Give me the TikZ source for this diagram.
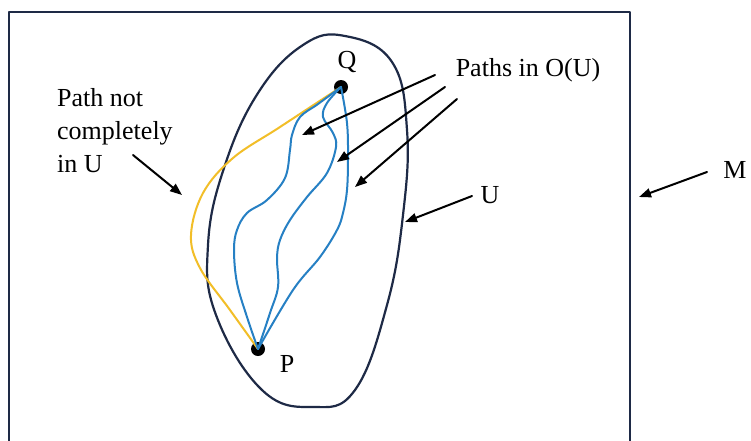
\documentclass[tikz,border=0pt]{standalone}
\usepackage{fontspec}
\setmainfont{Liberation Serif}
\usetikzlibrary{arrows.meta}
\definecolor{navy}{RGB}{30,42,70}
\definecolor{pathblue}{RGB}{38,128,196}
\definecolor{pathgold}{RGB}{242,190,40}
\tikzset{
  dot/.style={circle,fill=black,inner sep=0pt,minimum size=14pt},
  lbl/.style={inner sep=0pt,align=left},
  curve/.style={line width=2pt,smooth,tension=0.6}
}
\begin{document}
\begin{tikzpicture}[x=1pt,y=-1pt,>={Triangle[length=12pt,width=9pt]},line cap=round,line join=round,font=\fontsize{26}{33}\selectfont]
				\clip (0,0) rectangle (751,440);
				\fill[white] (0,0) rectangle (751,440);
				% manifold M and the set U
				\draw[navy,line width=2.2pt] (9,12) rectangle (630,470);
				\draw[navy,line width=2.2pt,smooth cycle,tension=0.7] plot coordinates {(345,36) (392,62) (407,130) (403,215) (387,305) (355,390) (313,407) (262,390) (216,315) (208,245) (224,168) (258,93) (303,45)};
				% end points
				\node[dot] (Q) at (341,87) {};
				\node[dot] (P) at (258,349) {};
				\node[lbl] (Qlbl) at (347,62) {Q};
				\node[lbl] (Plbl) at (287,364) {P};
				% paths from P to Q
				\draw[pathgold,curve] plot coordinates {(Q.center) (280,127) (233,158) (203,193) (191,235) (200,268) (230,310) (P.center)};
				\draw[pathblue,curve] plot coordinates {(Q.center) (318,104) (300,117) (292,135) (290,150) (285,178) (267,200) (247,213) (237,230) (234,250) (237,283) (247,317) (P.center)};
				\draw[pathblue,curve] plot coordinates {(Q.center) (327,103) (323,117) (333,133) (336,147) (327,173) (307,197) (290,220) (280,240) (277,258) (278,287) (270,313) (P.center)};
				\draw[pathblue,curve] plot coordinates {(Q.center) (347,123) (348,157) (347,190) (343,213) (337,230) (320,257) (293,290) (P.center)};
				% labels
				\node[lbl,anchor=north west] (notin) at (57,88) {Path not\\completely\\in U};
				\node[lbl] (paths) at (528,70) {Paths in O(U)};
				\node[lbl] (Ulbl) at (490,195) {U};
				\node[lbl] (Mlbl) at (735,170) {M};
				% arrows
				\foreach \name/\tx/\ty/\hx/\hy in {a1/435/75/302/135,a2/445/87/337/162,a3/457/99/355/187,a4/133/155/182/195,a5/472/196/405/222,a6/707/172/639/197}{
					\coordinate (\name-t) at (\tx,\ty);
					\coordinate (\name-h) at (\hx,\hy);
					\draw[->,line width=2pt] (\name-t) -- (\name-h);
				}
			\end{tikzpicture}
\end{document}
